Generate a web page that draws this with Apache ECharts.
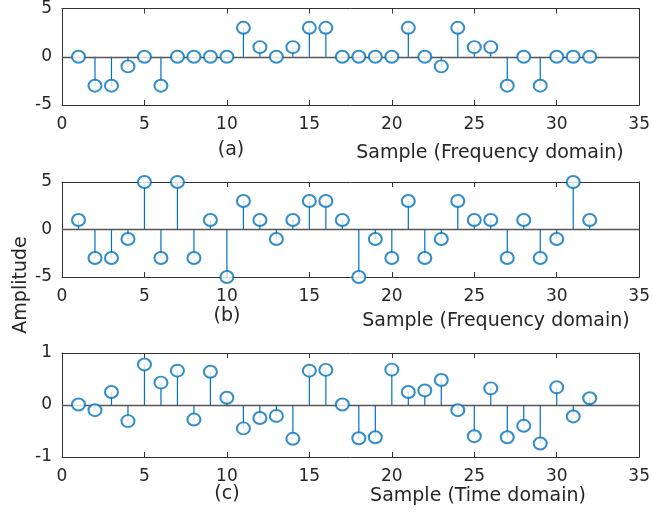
<!DOCTYPE html>
<html>
<head>
<meta charset="utf-8">
<script src="https://cdn.jsdelivr.net/npm/echarts@6/dist/echarts.min.js"></script>
<style>
  html, body { margin: 0; padding: 0; background: #fff; }
  #chart { width: 653px; height: 521px; }
</style>
</head>
<body>
<div id="chart"></div>
<script>
// sample index (x)
var samples = [1, 2, 3, 4, 5, 6, 7, 8, 9, 10, 11, 12, 13, 14, 15, 16,
               17, 18, 19, 20, 21, 22, 23, 24, 25, 26, 27, 28, 29, 30, 31, 32];

// (a) frequency domain
var freqA = [0, -3, -3, -1, 0, -3, 0, 0, 0, 0, 3, 1, 0, 1, 3, 3,
             0, 0, 0, 0, 3, 0, -1, 3, 1, 1, -3, 0, -3, 0, 0, 0];

// (b) frequency domain
var freqB = [1, -3, -3, -1, 5, -3, 5, -3, 1, -5, 3, 1, -1, 1, 3, 3,
             1, -5, -1, -3, 3, -3, -1, 3, 1, 1, -3, 1, -3, -1, 5, 1];

// (c) time domain
var timeC = [0.01, -0.10, 0.25, -0.31, 0.78, 0.43, 0.66, -0.28, 0.64, 0.14, -0.45, -0.25, -0.21, -0.65, 0.66, 0.675,
             0.01, -0.64, -0.62, 0.68, 0.25, 0.28, 0.48, -0.10, -0.60, 0.32, -0.62, -0.40, -0.74, 0.34, -0.22, 0.13];

var xTicks = [0, 5, 10, 15, 20, 25, 30, 35];
var yRangeA = [-5, 5], yRangeB = [-5, 5], yRangeC = [-1, 1];
var yStep = [5, 5, 1];

var blue = '#0072BD';
var axisColor = '#333333';
var fontFam = 'DejaVu Sans';

var grids = [
    { left: 62, right: 12, top: 6, height: 99 },
    { left: 62, right: 12, top: 182, height: 95 },
    { left: 62, right: 12, top: 353, height: 104 }
];
var ranges = [yRangeA, yRangeB, yRangeC];
var values = [freqA, freqB, timeC];

function pairs(v) {
    return samples.map(function (s, i) { return [s, v[i]]; });
}

var xAxes = [], yAxes = [], series = [];
grids.forEach(function (g, i) {
    // bottom / left axes with labels
    xAxes.push({
        type: 'value', gridIndex: i, position: 'bottom',
        min: xTicks[0], max: xTicks[xTicks.length - 1], interval: 5,
        axisLine: { show: true, onZero: false, lineStyle: { color: axisColor, width: 1 } },
        axisTick: { show: true, inside: true, length: 5, lineStyle: { color: axisColor } },
        axisLabel: { margin: 11, fontSize: 17, fontFamily: fontFam, color: '#262626' },
        splitLine: { show: false }
    });
    // top axis only for the box ticks
    xAxes.push({
        type: 'value', gridIndex: i, position: 'top',
        min: xTicks[0], max: xTicks[xTicks.length - 1], interval: 5,
        axisLine: { show: true, onZero: false, lineStyle: { color: axisColor, width: 1 } },
        axisTick: { show: true, inside: true, length: 5, lineStyle: { color: axisColor } },
        axisLabel: { show: false },
        splitLine: { show: false }
    });
    yAxes.push({
        type: 'value', gridIndex: i, position: 'left',
        min: ranges[i][0], max: ranges[i][1], interval: yStep[i],
        axisLine: { show: true, onZero: false, lineStyle: { color: axisColor, width: 1 } },
        axisTick: { show: true, inside: true, length: 5, lineStyle: { color: axisColor } },
        axisLabel: { margin: 10, fontSize: 17, fontFamily: fontFam, color: '#262626' },
        splitLine: { show: false }
    });
    yAxes.push({
        type: 'value', gridIndex: i, position: 'right',
        min: ranges[i][0], max: ranges[i][1], interval: yStep[i],
        axisLine: { show: true, onZero: false, lineStyle: { color: axisColor, width: 1 } },
        axisTick: { show: true, inside: true, length: 5, lineStyle: { color: axisColor } },
        axisLabel: { show: false },
        splitLine: { show: false }
    });

    // stems
    series.push({
        type: 'bar',
        xAxisIndex: i * 2, yAxisIndex: i * 2,
        data: pairs(values[i]),
        barWidth: 1.2,
        itemStyle: { color: blue },
        markLine: {
            silent: true,
            symbol: ['none', 'none'],
            label: { show: false },
            lineStyle: { color: '#555555', width: 1.4, type: 'solid' },
            data: [{ yAxis: 0 }]
        }
    });
    // stem heads
    series.push({
        type: 'scatter',
        xAxisIndex: i * 2, yAxisIndex: i * 2,
        data: pairs(values[i]),
        symbol: 'emptyCircle',
        symbolSize: [13, 12],
        itemStyle: { color: blue, borderColor: blue, borderWidth: 1.5 },
        z: 5
    });
});

function label(txt, x, y, rot) {
    return {
        type: 'text', x: x, y: y, rotation: rot || 0,
        style: {
            text: txt, fill: '#262626', fontSize: 19, fontFamily: fontFam,
            textAlign: 'center', textVerticalAlign: 'middle'
        }
    };
}

var chart = echarts.init(document.getElementById('chart'), null, { renderer: 'canvas' });
chart.setOption({
    animation: false,
    backgroundColor: '#ffffff',
    grid: grids,
    xAxis: xAxes,
    yAxis: yAxes,
    series: series,
    graphic: [
        label('(a)', 231, 150),
        label('Sample (Frequency domain)', 490, 153),
        label('(b)', 227, 316),
        label('Sample (Frequency domain)', 496, 321),
        label('Amplitude', 21, 285, Math.PI / 2),
        label('(c)', 227, 494),
        label('Sample (Time domain)', 478, 496)
    ]
});
</script>
</body>
</html>
